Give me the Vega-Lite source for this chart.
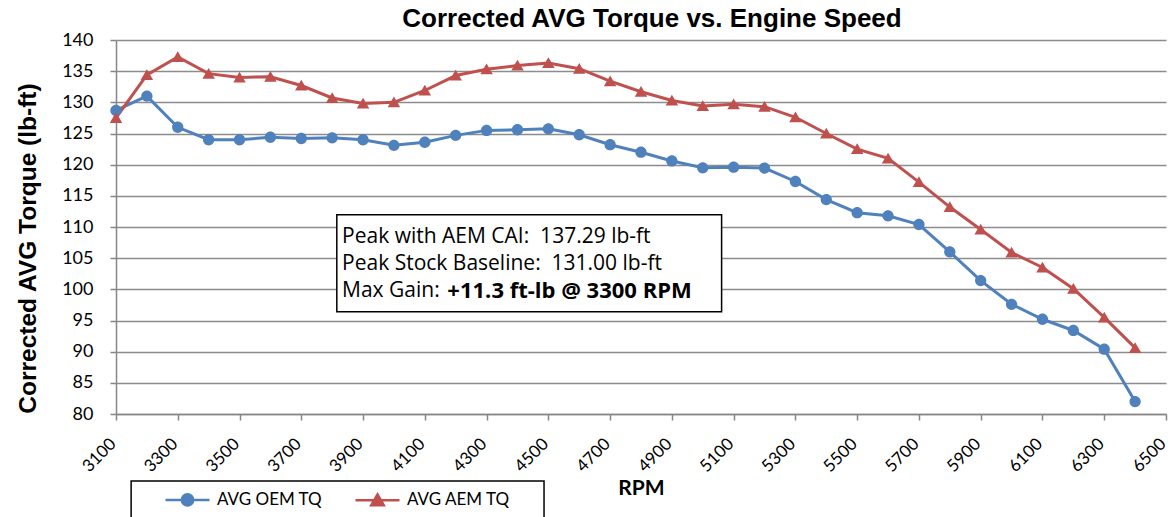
{
  "$schema": "https://vega.github.io/schema/vega-lite/v6.json",
  "autosize": "none",
  "width": 1050,
  "height": 374,
  "padding": {"left": 116, "top": 40, "right": 5, "bottom": 103},
  "background": "white",
  "title": {
    "text": "Corrected AVG Torque vs. Engine Speed",
    "font": "Liberation Sans",
    "fontSize": 26,
    "fontWeight": "bold",
    "color": "#000000",
    "anchor": "middle",
    "offset": -1,
    "dx": 11
  },
  "data": {
    "values": [
      {"rpm": 3100, "series": "AVG OEM TQ", "tq": 128.7},
      {"rpm": 3200, "series": "AVG OEM TQ", "tq": 131.0},
      {"rpm": 3300, "series": "AVG OEM TQ", "tq": 126.0},
      {"rpm": 3400, "series": "AVG OEM TQ", "tq": 124.0},
      {"rpm": 3500, "series": "AVG OEM TQ", "tq": 124.0},
      {"rpm": 3600, "series": "AVG OEM TQ", "tq": 124.4},
      {"rpm": 3700, "series": "AVG OEM TQ", "tq": 124.2},
      {"rpm": 3800, "series": "AVG OEM TQ", "tq": 124.3},
      {"rpm": 3900, "series": "AVG OEM TQ", "tq": 124.0},
      {"rpm": 4000, "series": "AVG OEM TQ", "tq": 123.1},
      {"rpm": 4100, "series": "AVG OEM TQ", "tq": 123.6},
      {"rpm": 4200, "series": "AVG OEM TQ", "tq": 124.7},
      {"rpm": 4300, "series": "AVG OEM TQ", "tq": 125.5},
      {"rpm": 4400, "series": "AVG OEM TQ", "tq": 125.6},
      {"rpm": 4500, "series": "AVG OEM TQ", "tq": 125.75},
      {"rpm": 4600, "series": "AVG OEM TQ", "tq": 124.8},
      {"rpm": 4700, "series": "AVG OEM TQ", "tq": 123.2},
      {"rpm": 4800, "series": "AVG OEM TQ", "tq": 122.0},
      {"rpm": 4900, "series": "AVG OEM TQ", "tq": 120.6},
      {"rpm": 5000, "series": "AVG OEM TQ", "tq": 119.5},
      {"rpm": 5100, "series": "AVG OEM TQ", "tq": 119.6},
      {"rpm": 5200, "series": "AVG OEM TQ", "tq": 119.45},
      {"rpm": 5300, "series": "AVG OEM TQ", "tq": 117.3},
      {"rpm": 5400, "series": "AVG OEM TQ", "tq": 114.4},
      {"rpm": 5500, "series": "AVG OEM TQ", "tq": 112.3},
      {"rpm": 5600, "series": "AVG OEM TQ", "tq": 111.8},
      {"rpm": 5700, "series": "AVG OEM TQ", "tq": 110.4},
      {"rpm": 5800, "series": "AVG OEM TQ", "tq": 106.0},
      {"rpm": 5900, "series": "AVG OEM TQ", "tq": 101.4},
      {"rpm": 6000, "series": "AVG OEM TQ", "tq": 97.6},
      {"rpm": 6100, "series": "AVG OEM TQ", "tq": 95.2},
      {"rpm": 6200, "series": "AVG OEM TQ", "tq": 93.4},
      {"rpm": 6300, "series": "AVG OEM TQ", "tq": 90.4},
      {"rpm": 6400, "series": "AVG OEM TQ", "tq": 82.0},
      {"rpm": 3100, "series": "AVG AEM TQ", "tq": 127.5},
      {"rpm": 3200, "series": "AVG AEM TQ", "tq": 134.4},
      {"rpm": 3300, "series": "AVG AEM TQ", "tq": 137.29},
      {"rpm": 3400, "series": "AVG AEM TQ", "tq": 134.6},
      {"rpm": 3500, "series": "AVG AEM TQ", "tq": 134.0},
      {"rpm": 3600, "series": "AVG AEM TQ", "tq": 134.1},
      {"rpm": 3700, "series": "AVG AEM TQ", "tq": 132.7},
      {"rpm": 3800, "series": "AVG AEM TQ", "tq": 130.7},
      {"rpm": 3900, "series": "AVG AEM TQ", "tq": 129.8},
      {"rpm": 4000, "series": "AVG AEM TQ", "tq": 130.0},
      {"rpm": 4100, "series": "AVG AEM TQ", "tq": 131.9},
      {"rpm": 4200, "series": "AVG AEM TQ", "tq": 134.3},
      {"rpm": 4300, "series": "AVG AEM TQ", "tq": 135.3},
      {"rpm": 4400, "series": "AVG AEM TQ", "tq": 135.9},
      {"rpm": 4500, "series": "AVG AEM TQ", "tq": 136.3},
      {"rpm": 4600, "series": "AVG AEM TQ", "tq": 135.4},
      {"rpm": 4700, "series": "AVG AEM TQ", "tq": 133.4},
      {"rpm": 4800, "series": "AVG AEM TQ", "tq": 131.7},
      {"rpm": 4900, "series": "AVG AEM TQ", "tq": 130.3},
      {"rpm": 5000, "series": "AVG AEM TQ", "tq": 129.4},
      {"rpm": 5100, "series": "AVG AEM TQ", "tq": 129.7},
      {"rpm": 5200, "series": "AVG AEM TQ", "tq": 129.3},
      {"rpm": 5300, "series": "AVG AEM TQ", "tq": 127.6},
      {"rpm": 5400, "series": "AVG AEM TQ", "tq": 125.0},
      {"rpm": 5500, "series": "AVG AEM TQ", "tq": 122.5},
      {"rpm": 5600, "series": "AVG AEM TQ", "tq": 121.0},
      {"rpm": 5700, "series": "AVG AEM TQ", "tq": 117.2},
      {"rpm": 5800, "series": "AVG AEM TQ", "tq": 113.2},
      {"rpm": 5900, "series": "AVG AEM TQ", "tq": 109.6},
      {"rpm": 6000, "series": "AVG AEM TQ", "tq": 105.9},
      {"rpm": 6100, "series": "AVG AEM TQ", "tq": 103.5},
      {"rpm": 6200, "series": "AVG AEM TQ", "tq": 100.1},
      {"rpm": 6300, "series": "AVG AEM TQ", "tq": 95.5},
      {"rpm": 6400, "series": "AVG AEM TQ", "tq": 90.6}
    ]
  },
  "encoding": {
    "x": {
      "field": "rpm",
      "type": "quantitative",
      "scale": {"domain": [3100, 6500], "nice": false, "zero": false},
      "axis": {
        "title": "RPM",
        "values": [3100, 3300, 3500, 3700, 3900, 4100, 4300, 4500, 4700, 4900, 5100, 5300, 5500, 5700, 5900, 6100, 6300, 6500],
        "format": "d",
        "labelAngle": -45,
        "labelAlign": "right",
        "labelBaseline": "middle",
        "labelFont": "Lato",
        "labelFontSize": 17,
        "labelColor": "#000000",
        "labelPadding": 21,
        "labelOffset": -3,
        "labelFlush": false,
        "labelOverlap": false,
        "tickSize": 6,
        "tickColor": "#868686",
        "domainColor": "#868686",
        "domainWidth": 1.5,
        "tickWidth": 1.5,
        "grid": false,
        "titleFont": "Lato",
        "titleFontSize": 21,
        "titleFontWeight": "bold",
        "titleColor": "#000000",
        "titlePadding": 3
      }
    },
    "y": {
      "field": "tq",
      "type": "quantitative",
      "scale": {"domain": [80, 140], "nice": false, "zero": false},
      "axis": {
        "title": null,
        "values": [80, 85, 90, 95, 100, 105, 110, 115, 120, 125, 130, 135, 140],
        "labelFont": "Lato",
        "labelFontSize": 18,
        "labelColor": "#000000",
        "labelPadding": 17,
        "tickSize": 6,
        "tickColor": "#868686",
        "tickWidth": 1.5,
        "domainColor": "#868686",
        "domainWidth": 1.5,
        "grid": true,
        "gridColor": "#8c8c8c",
        "gridWidth": 1.5
      }
    }
  },
  "layer": [
    {
      "mark": {"type": "line", "strokeWidth": 3},
      "encoding": {
        "color": {
          "field": "series",
          "type": "nominal",
          "scale": {"domain": ["AVG OEM TQ", "AVG AEM TQ"], "range": ["#4F81BD", "#C0504D"]}
        }
      }
    },
    {
      "mark": {"type": "point", "filled": true, "opacity": 1, "size": 100},
      "encoding": {
        "color": {
          "field": "series",
          "type": "nominal",
          "scale": {"domain": ["AVG OEM TQ", "AVG AEM TQ"], "range": ["#4F81BD", "#C0504D"]},
          "legend": {
            "title": null,
            "orient": "none",
            "legendX": 15,
            "legendY": 439,
            "direction": "horizontal",
            "columns": 2,
            "padding": 12,
            "symbolSize": 100,
            "symbolOffset": 36,
            "labelOffset": 21,
            "columnPadding": 10,
            "labelFont": "Lato",
            "labelFontSize": 17,
            "labelColor": "#000000",
            "symbolOpacity": 1,
            "encode": {
              "symbols": {
                "update": {
                  "stroke": {"scale": "color", "field": "value"},
                  "strokeWidth": {"value": 2.5}
                }
              }
            }
          }
        },
        "shape": {
          "field": "series",
          "type": "nominal",
          "scale": {
            "domain": ["AVG OEM TQ", "AVG AEM TQ"],
            "range": [
              "M-4.4,0H4.4M1.13,0A1.13,1.13 0 1,1 -1.13,0A1.13,1.13 0 1,1 1.13,0Z",
              "M-4.4,0H4.4M0,-1.15L1.25,1L-1.25,1Z"
            ]
          }
        }
      }
    },
    {
      "transform": [{"filter": "datum.rpm == 3100 && datum.series == 'AVG OEM TQ'"}],
      "mark": {"type": "rect", "fill": null, "fillOpacity": 0, "stroke": "#000000", "strokeWidth": 1.5, "clip": false},
      "encoding": {
        "x": {"datum": 3149},
        "x2": {"datum": 4486},
        "y": {"datum": 69.25},
        "y2": {"datum": 60}
      }
    },
    {
      "transform": [{"filter": "datum.rpm == 3100 && datum.series == 'AVG OEM TQ'"}],
      "mark": {"type": "text", "angle": 270, "align": "center", "baseline": "middle", "font": "Liberation Sans", "fontSize": 24.5, "fontWeight": "bold", "color": "#000000", "clip": false},
      "encoding": {
        "x": {"datum": 2817},
        "y": {"datum": 106.55},
        "text": {"value": "Corrected AVG Torque (lb-ft)"}
      }
    },
    {
      "transform": [{"filter": "datum.rpm == 3100 && datum.series == 'AVG OEM TQ'"}],
      "mark": {"type": "rect", "fill": "white", "stroke": "#000000", "strokeWidth": 1.5},
      "encoding": {
        "x": {"datum": 3815},
        "x2": {"datum": 5061},
        "y": {"datum": 111.95},
        "y2": {"datum": 96.4}
      }
    },
    {
      "transform": [{"filter": "datum.rpm == 3100 && datum.series == 'AVG OEM TQ'"}],
      "mark": {"type": "text", "align": "left", "baseline": "middle", "font": "Open Sans", "fontSize": 21, "color": "#000000"},
      "encoding": {
        "x": {"datum": 3832},
        "y": {"datum": 108.4},
        "text": {"value": "Peak with AEM CAI:\u00a0 137.29 lb-ft"}
      }
    },
    {
      "transform": [{"filter": "datum.rpm == 3100 && datum.series == 'AVG OEM TQ'"}],
      "mark": {"type": "text", "align": "left", "baseline": "middle", "font": "Open Sans", "fontSize": 21, "color": "#000000"},
      "encoding": {
        "x": {"datum": 3832},
        "y": {"datum": 104.05},
        "text": {"value": "Peak Stock Baseline:\u00a0 131.00 lb-ft"}
      }
    },
    {
      "transform": [{"filter": "datum.rpm == 3100 && datum.series == 'AVG OEM TQ'"}],
      "mark": {"type": "text", "align": "left", "baseline": "middle", "font": "Open Sans", "fontSize": 21, "color": "#000000"},
      "encoding": {
        "x": {"datum": 3832},
        "y": {"datum": 99.7},
        "text": {"value": "Max Gain:"}
      }
    },
    {
      "transform": [{"filter": "datum.rpm == 3100 && datum.series == 'AVG OEM TQ'"}],
      "mark": {"type": "text", "align": "left", "baseline": "middle", "font": "Open Sans", "fontSize": 22, "fontWeight": "bold", "color": "#000000"},
      "encoding": {
        "x": {"datum": 4173},
        "y": {"datum": 99.7},
        "text": {"value": "+11.3 ft-lb @ 3300 RPM"}
      }
    }
  ],
  "config": {
    "view": {"stroke": null}
  }
}
